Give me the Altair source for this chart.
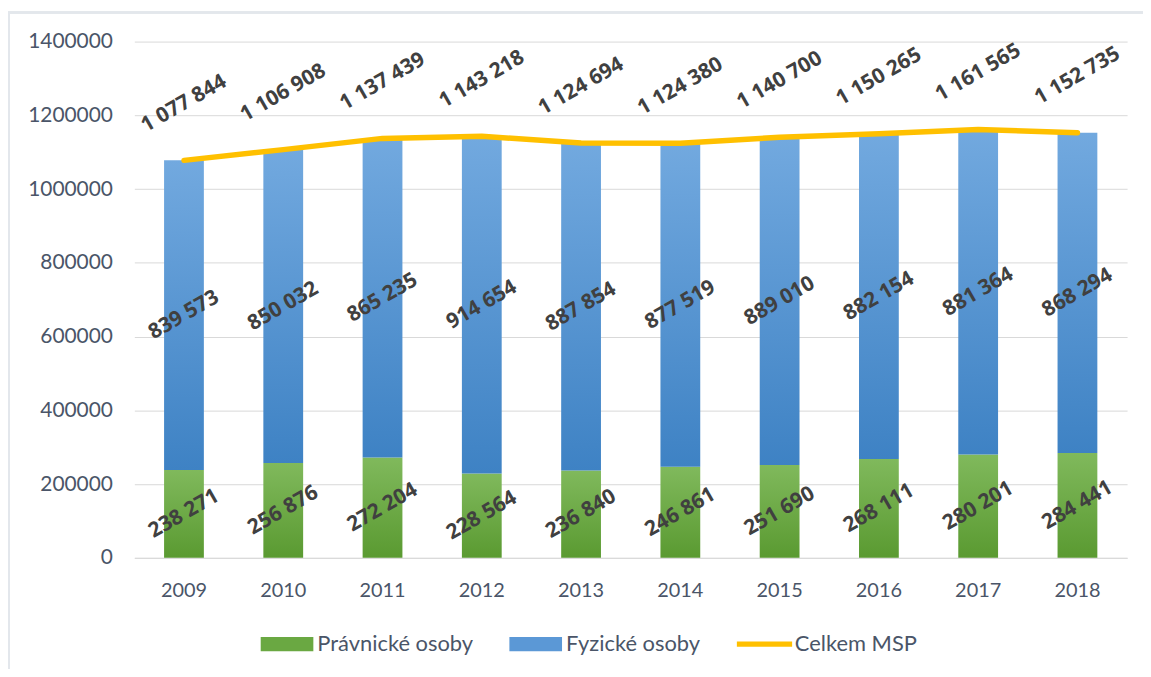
import altair as alt
import pandas as pd

years = ["2009", "2010", "2011", "2012", "2013", "2014", "2015", "2016", "2017", "2018"]
pravnicke = [238271, 256876, 272204, 228564, 236840, 246861, 251690, 268111, 280201, 284441]
fyzicke = [839573, 850032, 865235, 914654, 887854, 877519, 889010, 882154, 881364, 868294]
celkem = [1077844, 1106908, 1137439, 1143218, 1124694, 1124380, 1140700, 1150265, 1161565, 1152735]
series_names = ["Právnické osoby", "Fyzické osoby", "Celkem MSP"]
y_ticks = [0, 200000, 400000, 600000, 800000, 1000000, 1200000, 1400000]


def fmt(v):
    return f"{v:,}".replace(",", " ")


df = pd.DataFrame({
    "year": years,
    "P": pravnicke,
    "F": fyzicke,
    "T": celkem,
    "P_lab": [fmt(v) for v in pravnicke],
    "F_lab": [fmt(v) for v in fyzicke],
    "T_lab": [fmt(v) for v in celkem],
})
df["P_mid"] = df["P"] / 2
df["F_mid"] = df["P"] + df["F"] / 2

long = pd.DataFrame({
    "year": years * 3,
    "value": pravnicke + fyzicke + celkem,
    "series": [series_names[0]] * 10 + [series_names[1]] * 10 + [series_names[2]] * 10,
})

FONT = "Lato"
AXIS_COLOR = "#4A5568"
LABEL_COLOR = "#404040"

x_enc = alt.X("year:O", title=None,
              axis=alt.Axis(labelAngle=0, labelFontSize=20, labelFont=FONT, labelColor=AXIS_COLOR,
                            ticks=False, domainColor="#D9D9D9", labelPadding=23, grid=False))
y_scale = alt.Scale(domain=[0, 1400000], nice=False)

green_grad = alt.Gradient(gradient="linear", x1=0, x2=0, y1=0, y2=1,
                          stops=[alt.GradientStop(color="#80B95C", offset=0),
                                 alt.GradientStop(color="#5A9A31", offset=1)])
blue_grad = alt.Gradient(gradient="linear", x1=0, x2=0, y1=0, y2=1,
                         stops=[alt.GradientStop(color="#72A9DF", offset=0),
                                alt.GradientStop(color="#3E82C4", offset=1)])

base = alt.Chart(df)

frame = base.mark_rect(fill=None, stroke="#E3E7EC", strokeWidth=2).encode(
    x=alt.value(-126), x2=alt.value(1030), y=alt.value(-29), y2=alt.value(660)
)

bars_p = base.mark_bar(size=40, fill=green_grad).encode(
    x=x_enc,
    y=alt.Y("P:Q", scale=y_scale, title=None,
            axis=alt.Axis(values=y_ticks, format="d", labelFontSize=21, labelFont=FONT,
                          labelColor=AXIS_COLOR, domain=False, ticks=False, gridColor="#D9D9D9",
                          labelPadding=22)),
)
bars_f = base.mark_bar(size=40, fill=blue_grad).encode(
    x=x_enc,
    y=alt.Y("P:Q", scale=y_scale),
    y2="T:Q",
)
line = base.mark_line(color="#FFC000", strokeWidth=5.5, strokeCap="round", strokeJoin="round").encode(
    x=x_enc,
    y=alt.Y("T:Q", scale=y_scale),
)

txt_kw = dict(angle=330, font="Open Sans", fontSize=21, fontWeight="bold", color=LABEL_COLOR,
              align="center", baseline="middle")
t_p = base.mark_text(**txt_kw).encode(x=x_enc, y=alt.Y("P_mid:Q", scale=y_scale), text="P_lab:N")
t_f = base.mark_text(**txt_kw).encode(x=x_enc, y=alt.Y("F_mid:Q", scale=y_scale), text="F_lab:N")
t_t = base.mark_text(yOffset=-57, **txt_kw).encode(x=x_enc, y=alt.Y("T:Q", scale=y_scale), text="T_lab:N")

legend = alt.Legend(orient="none", legendX=127, legendY=579, direction="horizontal", columns=3,
                    title=None, labelFont=FONT, labelFontSize=22, labelColor=AXIS_COLOR,
                    symbolSize=2800, symbolOpacity=1, symbolStrokeWidth=0, labelOffset=4,
                    columnPadding=36)
leg_layer = alt.Chart(long).mark_point(filled=True, opacity=0).encode(
    x=x_enc,
    y=alt.Y("value:Q", scale=y_scale),
    color=alt.Color("series:N", sort=series_names,
                    scale=alt.Scale(domain=series_names, range=["#6AA842", "#5B98D6", "#FFC000"]),
                    legend=legend),
    shape=alt.Shape("series:N", sort=series_names,
                    scale=alt.Scale(domain=series_names,
                                    range=["M-1,-0.27H1V0.27H-1Z", "M-1,-0.27H1V0.27H-1Z",
                                           "M-1.05,-0.1H1.05V0.1H-1.05Z"]),
                    legend=legend),
)

chart = alt.layer(frame, bars_p, bars_f, line, t_p, t_f, t_t, leg_layer).properties(
    width=998, height=519,
    autosize=alt.AutoSizeParams(type="none"),
    padding={"left": 127, "top": 32, "right": 16, "bottom": 110},
    background="white",
).configure_view(stroke=None)

chart.save("out.html", embed_options={"renderer": "svg", "actions": False})
